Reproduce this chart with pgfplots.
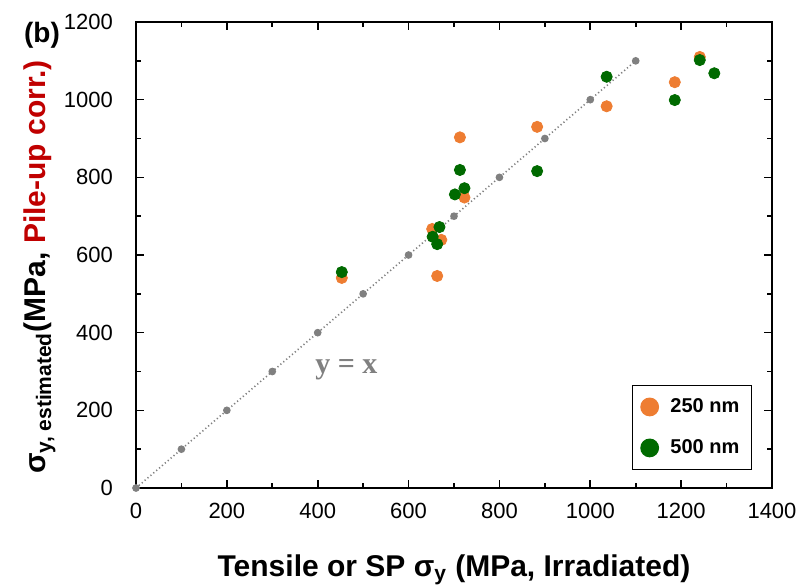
\documentclass[border=0pt]{standalone}
\usepackage{fontspec}
\setmainfont{Liberation Sans}
\newfontfamily\serifb{Liberation Serif}
\usepackage{pgfplots}
\pgfplotsset{compat=1.18}
\usetikzlibrary{calc}
\definecolor{orng}{HTML}{EE7D32}
\definecolor{dgreen}{HTML}{006A00}
\definecolor{lblred}{HTML}{C00000}
\definecolor{gry}{HTML}{808080}
\begin{document}
\begin{tikzpicture}
\begin{axis}[
  name=ax,
  scale only axis,
  width=318pt, height=233pt,
  xmin=0, xmax=1400, ymin=0, ymax=1200,
  xtick={0,200,...,1400}, ytick={0,200,...,1200},
  minor xtick={100,300,...,1300}, minor ytick={100,300,...,1100},
  tick align=inside,
  major tick length=4pt, minor tick length=2.5pt,
  axis line style={line width=1pt},
  every tick/.style={black, line width=0.8pt},
  tick label style={font=\fontsize{11}{13}\selectfont},
  /pgf/number format/assume math mode=true,
  /pgf/number format/1000 sep={},
  yticklabel style={xshift=-8pt},
  xticklabel style={yshift=-4pt},
  clip=false,
  legend style={at={(1,0)}, anchor=south east, xshift=-10pt, yshift=9pt,
    draw=black, line width=0.6pt, font=\bfseries\fontsize{10}{12}\selectfont,
    inner xsep=4pt, inner ysep=4.5pt, row sep=8pt, column sep=4pt, cells={anchor=west},
    nodes={inner sep=2pt}},
  legend image code/.code={\draw[#1, mark size=4.4pt] plot coordinates {(0.2cm,0cm)};},
]
\addplot[gry, line width=0.8pt, dash pattern=on 0.6pt off 1.3pt, mark=*, mark size=1.5pt,
  mark options={solid, fill=gry, draw=gry}, forget plot] coordinates {
  (0,0) (100,100) (200,200) (300,300) (400,400) (500,500) (600,600)
  (700,700) (800,800) (900,900) (1000,1000) (1100,1100)};
\addplot[only marks, mark=*, mark size=2.8pt, color=orng, fill=orng] coordinates {
  (453,541) (652,667) (663,546) (672,639) (713,903) (723,748)
  (883,930) (1036,983) (1186,1045) (1241,1110)};
\addlegendentry{250 nm}
\addplot[only marks, mark=*, mark size=2.8pt, color=dgreen, fill=dgreen] coordinates {
  (453,556) (653,647) (663,628) (668,672) (702,756) (713,819) (723,772)
  (883,816) (1036,1059) (1186,999) (1241,1102) (1273,1068)};
\addlegendentry{500 nm}
\node[font=\serifb\bfseries\fontsize{15}{18}\selectfont, text=gry] at (axis cs:463,304) {y = x};
\node[font=\bfseries\fontsize{15}{18}\selectfont, rotate=90] at (axis cs:-212,569)
  {σ\textsubscript{y, estimated}(MPa, \textcolor{lblred}{Pile-up corr.)}};
\node[font=\bfseries\fontsize{15}{18}\selectfont, yshift=-41pt] at (rel axis cs:0.5,0)
  {Tensile or SP σ\textsubscript{y} (MPa, Irradiated)};
\node[font=\bfseries\fontsize{14}{17}\selectfont, xshift=-47pt, yshift=-6.5pt] at (rel axis cs:0,1) {(b)};
\coordinate (BL) at (rel axis cs:0,0);
\coordinate (TR) at (rel axis cs:1,1);
\end{axis}
\pgfresetboundingbox
\path ($(BL)+(-68pt,-49pt)$) rectangle ($(TR)+(15.5pt,11pt)$);
\end{tikzpicture}
\end{document}
